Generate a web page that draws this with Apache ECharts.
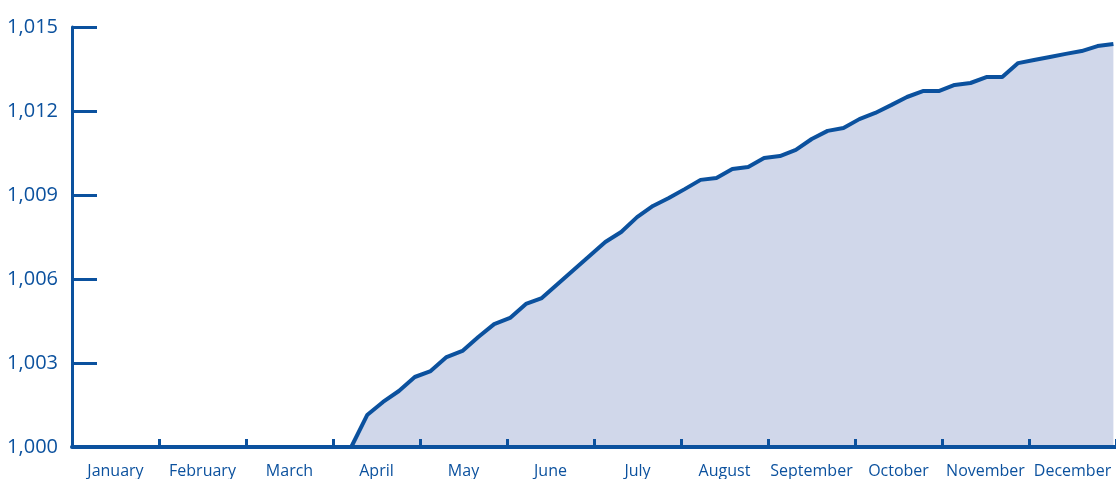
<!DOCTYPE html>
<html>
<head>
<meta charset="utf-8">
<script src="https://cdn.jsdelivr.net/npm/echarts@6/dist/echarts.min.js"></script>
<style>
  html, body { margin: 0; padding: 0; background: #fff; }
  #main { width: 1116px; height: 479px; }
</style>
</head>
<body>
<div id="main"></div>
<script>
// month names shown under the axis
const months = ['January', 'February', 'March', 'April', 'May', 'June', 'July',
  'August', 'September', 'October', 'November', 'December'];
// y axis ticks
const yTicks = [1000, 1003, 1006, 1009, 1012, 1015];
// series starts flat, then one reading roughly every 5.5 days from early April
const flatStart = [0, 1000];
const firstMonth = 3.21;
const stepMonth = 0.1825;
const values = [
  1000.00, 1001.14, 1001.61, 1002.00, 1002.50, 1002.71, 1003.21, 1003.43,
  1003.93, 1004.39, 1004.61, 1005.11, 1005.32, 1005.82, 1006.32, 1006.82,
  1007.32, 1007.68, 1008.21, 1008.61, 1008.89, 1009.21, 1009.54, 1009.61,
  1009.93, 1010.00, 1010.32, 1010.39, 1010.61, 1011.00, 1011.29, 1011.39,
  1011.71, 1011.93, 1012.21, 1012.50, 1012.71, 1012.71, 1012.93, 1013.00,
  1013.21, 1013.21, 1013.71, 1013.82, 1013.93, 1014.04, 1014.14, 1014.32,
  1014.39
];

const blue = '#0b519e';
const fill = '#d0d7ea';

let points = [flatStart];
values.forEach((v, i) => points.push([firstMonth + i * stepMonth, v]));

let myChart = echarts.init(document.getElementById('main'));
myChart.setOption({
  animation: false,
  grid: { left: 72, right: -3, top: 27, bottom: 32, containLabel: false },
  xAxis: [
    {
      type: 'value',
      min: 0,
      max: 12,
      interval: 1,
      z: 5,
      axisLine: { show: true, lineStyle: { color: blue, width: 4 } },
      axisTick: { show: true, inside: true, length: 8, lineStyle: { color: blue, width: 3 } },
      axisLabel: { show: false },
      splitLine: { show: false }
    },
    {
      type: 'category',
      position: 'bottom',
      data: months,
      boundaryGap: true,
      axisLine: { show: false },
      axisTick: { show: false },
      axisLabel: {
        interval: 0,
        color: blue,
        fontFamily: 'Open Sans',
        fontSize: 16,
        margin: 16
      }
    }
  ],
  yAxis: {
    type: 'value',
    min: yTicks[0],
    max: yTicks[yTicks.length - 1],
    interval: 3,
    z: 5,
    axisLine: { show: true, lineStyle: { color: blue, width: 3 } },
    axisTick: { show: true, inside: true, length: 25, lineStyle: { color: blue, width: 3 } },
    axisLabel: {
      color: blue,
      fontFamily: 'Open Sans',
      fontSize: 20,
      margin: 14,
      formatter: v => v.toLocaleString('en-US')
    },
    splitLine: { show: false }
  },
  series: [
    {
      type: 'line',
      xAxisIndex: 0,
      data: points,
      symbol: 'none',
      lineStyle: { color: blue, width: 4 },
      areaStyle: { color: fill, opacity: 1 },
      z: 1
    }
  ]
});
</script>
</body>
</html>
